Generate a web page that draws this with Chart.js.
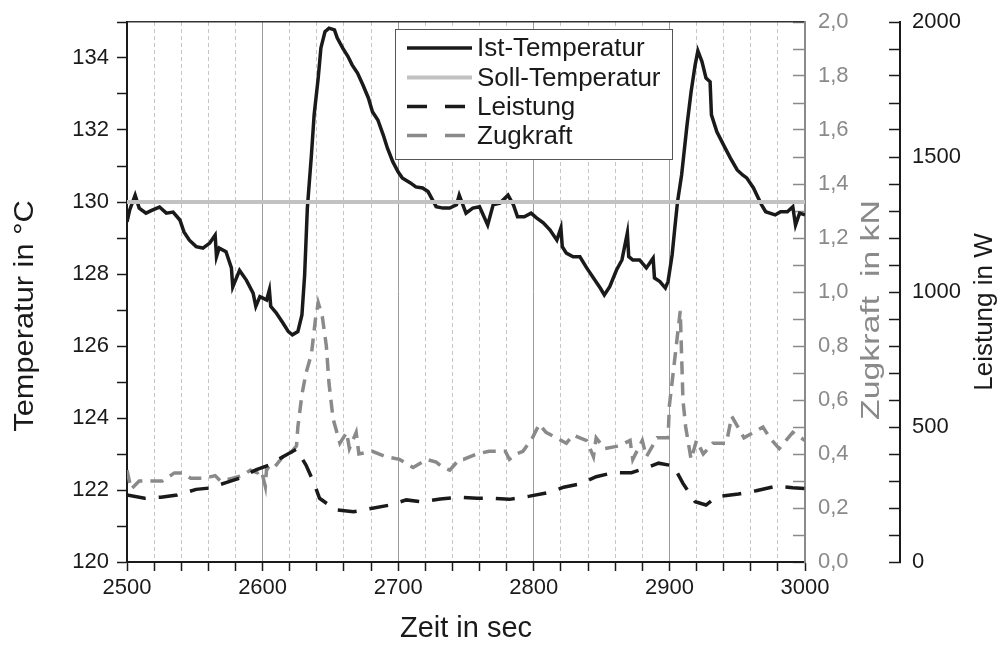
<!DOCTYPE html>
<html>
<head>
<meta charset="utf-8">
<script src="https://cdn.jsdelivr.net/npm/chart.js@4.4.1/dist/chart.umd.min.js"></script>
<style>
html,body{margin:0;padding:0;background:#fff;}
#wrap{width:1003px;height:646px;position:relative;}
</style>
</head>
<body>
<div id="wrap"><canvas id="c" width="1003" height="646"></canvas></div>
<script>
// ---- data ----
const zeitIst = [
 2500,2502,2506,2509,2514,2519,2524,2529,2534,2539,
 2542,2546,2551,2556,2561,2565,2566,2568,2573,2577,
 2578,2583,2588,2593,2595,2598,2603,2605,2606,2610,
 2615,2619,2622,2626,2629,2631,2633,2636,2638,2641,
 2643,2646,2649,2653,2655,2659,2663,2666,2670,2674,
 2678,2681,2685,2689,2692,2696,2700,2703,2709,2713,
 2718,2722,2726,2728,2733,2738,2743,2745,2750,2755,
 2760,2766,2770,2775,2781,2785,2788,2793,2798,2802,
 2807,2812,2817,2820,2821,2824,2829,2834,2839,2844,
 2849,2852,2856,2861,2865,2869,2870,2873,2878,2883,
 2888,2889,2893,2897,2899,2902,2904,2906,2909,2913,
 2916,2919,2921,2924,2927,2930,2931,2935,2940,2945,
 2950,2954,2957,2962,2965,2968,2971,2974,2978,2982,
 2987,2991,2993,2996,3000];
const istTemperatur = [
 129.45,129.78,130.19,129.83,129.69,129.78,129.86,129.69,129.72,129.5,
 129.17,128.94,128.76,128.72,128.86,129.08,128.48,128.72,128.62,128.17,
 127.64,128.1,127.83,127.47,127.1,127.37,127.28,127.56,127.1,126.92,
 126.64,126.4,126.31,126.4,126.86,127.97,129.83,131.3,132.42,133.44,
 134.28,134.73,134.83,134.78,134.56,134.28,134.04,133.81,133.58,133.25,
 132.89,132.51,132.28,131.86,131.5,131.12,130.83,130.67,130.53,130.42,
 130.39,130.29,130.01,129.87,129.83,129.83,129.92,130.19,129.69,129.83,
 129.87,129.36,129.92,129.97,130.19,129.92,129.59,129.59,129.69,129.56,
 129.42,129.22,128.94,129.28,128.76,128.58,128.48,128.48,128.17,127.89,
 127.61,127.42,127.65,128.11,128.39,129.14,128.48,128.39,128.39,128.17,
 128.44,127.89,127.79,127.61,127.79,128.53,129.28,130.01,130.75,132.14,
 133.06,133.81,134.2,133.9,133.44,133.34,132.42,131.95,131.58,131.22,
 130.89,130.75,130.67,130.39,130.15,129.92,129.73,129.69,129.64,129.73,
 129.73,129.87,129.36,129.69,129.64];

const zeitSoll = [2500, 3000];
const sollTemperatur = [130, 130];

const zeitLeistung = [
 2500,2513,2525,2537,2551,2561,2573,2583,2595,2605,
 2615,2625,2632,2638,2642,2654,2667,2681,2694,2706,
 2718,2731,2745,2758,2768,2782,2797,2811,2822,2834,
 2846,2859,2872,2882,2892,2903,2910,2919,2927,2935,
 2951,2964,2979,2991,3000];
const leistung = [
 248,236,240,248,269,274,294,310,341,359,
 390,418,359,291,236,193,186,199,211,230,
 223,233,240,236,236,232,244,257,277,289,
 316,331,331,347,366,356,291,223,211,242,
 252,264,281,275,272];

const zeitZugkraft = [
 2500,2503,2509,2519,2526,2535,2541,2547,2557,2565,
 2569,2578,2585,2591,2596,2599,2602,2603,2607,2615,
 2620,2625,2626,2629,2632,2636,2639,2641,2644,2647,
 2649,2652,2657,2662,2664,2669,2671,2681,2691,2701,
 2711,2721,2728,2733,2738,2745,2748,2758,2767,2779,
 2782,2787,2792,2799,2804,2809,2824,2829,2839,2844,
 2846,2852,2863,2871,2873,2880,2883,2891,2899,2900,
 2903,2908,2910,2912,2916,2920,2925,2932,2942,2946,
 2955,2969,2974,2981,2991,3000];
const zugkraft = [
 0.34,0.27,0.30,0.30,0.30,0.33,0.33,0.31,0.31,0.32,
 0.30,0.31,0.32,0.34,0.33,0.34,0.28,0.35,0.34,0.39,
 0.40,0.43,0.50,0.62,0.70,0.77,0.90,0.96,0.91,0.80,
 0.66,0.53,0.44,0.48,0.42,0.48,0.40,0.41,0.39,0.38,
 0.35,0.38,0.37,0.35,0.34,0.38,0.38,0.40,0.41,0.41,
 0.38,0.40,0.41,0.46,0.51,0.48,0.44,0.47,0.45,0.39,
 0.46,0.42,0.43,0.45,0.38,0.45,0.39,0.46,0.46,0.58,
 0.71,0.93,0.60,0.50,0.38,0.45,0.40,0.44,0.44,0.54,
 0.46,0.50,0.46,0.42,0.48,0.45];

// tick labels
const zeitTickLabels = [2500, 2600, 2700, 2800, 2900, 3000];
const tempTickLabels = [120, 122, 124, 126, 128, 130, 132, 134];
const zugkraftTickLabels = ['0,0','0,2','0,4','0,6','0,8','1,0','1,2','1,4','1,6','1,8','2,0'];
const leistungTickLabels = [0, 500, 1000, 1500, 2000];

// ---- chart ----
const BLACK = '#1a1a1a';
const GRAY = '#8a8a8a';
const LIGHT = '#c2c2c2';
const FONT = "'Liberation Sans', Arial, Helvetica, sans-serif";
Chart.defaults.font.family = FONT;
Chart.defaults.color = BLACK;

const toXY = (xs, ys) => xs.map((x, i) => ({x: x, y: ys[i]}));
const fixWidth = w => s => { s.width = w; s.paddingTop = 0; s.paddingBottom = 0; };
const fixHeight = h => s => { s.height = h; s.paddingLeft = 0; s.paddingRight = 0; };

const boxLegend = {
  id: 'boxLegend',
  afterDatasetsDraw(chart) {
    const ctx = chart.ctx;
    const x0 = 395, y0 = 29, w = 277, h = 130;
    ctx.save();
    ctx.fillStyle = '#fff';
    ctx.fillRect(x0, y0, w, h);
    ctx.strokeStyle = '#555';
    ctx.lineWidth = 1;
    ctx.strokeRect(x0 + 0.5, y0 + 0.5, w, h);
    const rows = [48, 77.5, 106.5, 135.5];
    chart.data.datasets.forEach((ds, i) => {
      const y = rows[i];
      ctx.beginPath();
      ctx.setLineDash(ds.legendDash || []);
      ctx.strokeStyle = ds.borderColor;
      ctx.lineWidth = ds.borderWidth;
      ctx.moveTo(407, y);
      ctx.lineTo(472, y);
      ctx.stroke();
      ctx.setLineDash([]);
      ctx.fillStyle = BLACK;
      ctx.font = '26px ' + FONT;
      ctx.textBaseline = 'middle';
      ctx.textAlign = 'left';
      ctx.fillText(ds.label, 477, y + 1);
    });
    ctx.restore();
  }
};

// vertical axis titles (reading bottom-to-top, as in the reference)
const sideTitles = {
  id: 'sideTitles',
  afterDraw(chart) {
    const ctx = chart.ctx;
    const draw = (text, x, y, color, size, stretch) => {
      ctx.save();
      ctx.translate(x, y);
      ctx.rotate(-Math.PI / 2);
      ctx.scale(stretch, 1);
      ctx.fillStyle = color;
      ctx.font = size + 'px ' + FONT;
      ctx.textAlign = 'center';
      ctx.textBaseline = 'middle';
      ctx.fillText(text, 0, 0);
      ctx.restore();
    };
    const yT = chart.scales.y, k = chart.scales.yK, wS = chart.scales.yW;
    draw('Temperatur in °C', yT.left + 25, 316, BLACK, 28, 1.1);
    draw('Zugkraft  in kN', k.right - 28, 310, GRAY, 26, 1.3);
    draw('Leistung in W', wS.right - 18, 312, BLACK, 26, 1.0);
  }
};

new Chart(document.getElementById('c'), {
  type: 'line',
  data: {
    datasets: [
      { label: 'Ist-Temperatur', data: toXY(zeitIst, istTemperatur), yAxisID: 'y', xAxisID: 'x',
        borderColor: BLACK, borderWidth: 3.5, pointRadius: 0, tension: 0, order: 1 },
      { label: 'Soll-Temperatur', data: toXY(zeitSoll, sollTemperatur), yAxisID: 'y', xAxisID: 'x',
        borderColor: LIGHT, borderWidth: 4, pointRadius: 0, tension: 0, order: 0 },
      { label: 'Leistung', data: toXY(zeitLeistung, leistung), yAxisID: 'yW', xAxisID: 'x',
        borderColor: BLACK, borderWidth: 3.5, borderDash: [19, 13], legendDash: [20, 18],
        pointRadius: 0, tension: 0, order: 2 },
      { label: 'Zugkraft', data: toXY(zeitZugkraft, zugkraft), yAxisID: 'yK', xAxisID: 'x',
        borderColor: GRAY, borderWidth: 3.5, borderDash: [13, 8], legendDash: [20, 18],
        pointRadius: 0, tension: 0, order: 3 }
    ]
  },
  plugins: [boxLegend, sideTitles],
  options: {
    responsive: false,
    animation: false,
    events: [],
    layout: { padding: 0 },
    plugins: { legend: { display: false }, tooltip: { enabled: false }, title: { display: false } },
    scales: {
      x: {
        type: 'linear', position: 'bottom', weight: 0, min: 2500, max: 3000,
        ticks: { stepSize: 20, maxTicksLimit: 1000, autoSkip: false, maxRotation: 0, padding: 4,
                 font: { size: 22 }, color: BLACK,
                 callback: v => zeitTickLabels.includes(v) ? String(v) : '' },
        grid: { color: c => (c.tick && c.tick.value % 100 === 0) ? '#9c9c9c' : 'rgba(0,0,0,0)',
                lineWidth: 1, tickLength: 9, tickColor: BLACK, tickWidth: 1.5 },
        border: { color: BLACK, width: 2 },
        title: { display: true, text: 'Zeit in sec', font: { size: 29 }, color: BLACK, padding: { top: 0, bottom: 0 } },
        afterFit: fixHeight(84)
      },
      xm: {
        type: 'linear', position: 'bottom', weight: 1, min: 2500, max: 3000,
        ticks: { display: false, stepSize: 20, maxTicksLimit: 1000, autoSkip: false },
        grid: { drawTicks: false, lineWidth: 1,
                color: c => (c.tick && c.tick.value % 100 !== 0) ? '#c6c6c6' : 'rgba(0,0,0,0)' },
        border: { display: false, dash: [4, 3] },
        afterFit: fixHeight(0)
      },
      xt: {
        type: 'linear', position: 'top', min: 2500, max: 3000,
        ticks: { display: false },
        grid: { drawOnChartArea: false, drawTicks: false },
        border: { color: '#333', width: 1.5 },
        afterFit: fixHeight(22)
      },
      y: {
        position: 'left', min: 120, max: 135,
        ticks: { stepSize: 1, maxTicksLimit: 1000, autoSkip: false, padding: 8, font: { size: 22 }, color: BLACK,
                 callback: v => tempTickLabels.includes(v) ? String(v) : '' },
        grid: { drawOnChartArea: false, tickLength: 10, tickColor: BLACK, tickWidth: 1.5 },
        border: { color: BLACK, width: 2 },
        afterFit: fixWidth(127)
      },
      yK: {
        position: 'right', weight: 0, min: 0, max: 2,
        ticks: { stepSize: 0.1, maxTicksLimit: 1000, autoSkip: false, padding: 25, font: { size: 22 }, color: GRAY,
                 callback: v => { const k = Math.round(v * 10); return k % 2 === 0 ? zugkraftTickLabels[k / 2] : ''; } },
        grid: { drawOnChartArea: false, tickLength: -12, tickColor: GRAY, tickWidth: 1.5 },
        border: { color: GRAY, width: 2 },
        afterFit: fixWidth(95)
      },
      yW: {
        position: 'right', weight: 1, min: 0, max: 2000,
        ticks: { stepSize: 100, maxTicksLimit: 1000, autoSkip: false, padding: 23, font: { size: 22 }, color: BLACK,
                 callback: v => leistungTickLabels.includes(v) ? String(v) : '' },
        grid: { drawOnChartArea: false, tickLength: -11, tickColor: BLACK, tickWidth: 1.5 },
        border: { color: BLACK, width: 2 },
        afterFit: fixWidth(103)
      }
    }
  }
});
</script>
</body>
</html>
